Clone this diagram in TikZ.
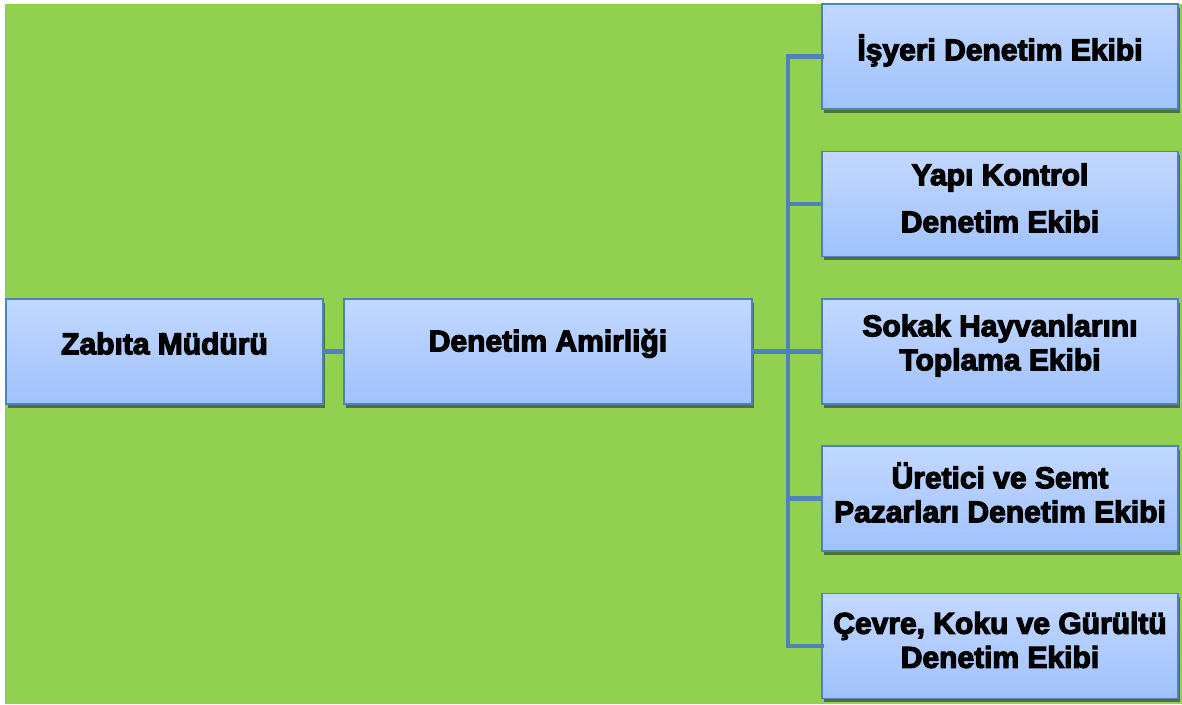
\documentclass[tikz,border=0pt]{standalone}
\usepackage{fontspec}
\setmainfont{Liberation Sans}[BoldFeatures={FakeBold=4}]
\usetikzlibrary{shadows}
\definecolor{bggreen}{HTML}{92D050}
\definecolor{linkblue}{HTML}{4F81BD}
\definecolor{boxtop}{HTML}{C2D8FF}
\definecolor{boxbot}{HTML}{A0C2FC}
\definecolor{shadowc}{HTML}{4A6634}
\tikzset{
  orgbox/.style={draw=linkblue, line width=1.5pt, top color=boxtop, bottom color=boxbot,
    minimum width=#1, minimum height=105pt, inner sep=0pt,
    drop shadow={shadow xshift=2pt, shadow yshift=-3.5pt, fill=shadowc, opacity=0.9}},
  orgtxt/.style={font=\fontsize{30pt}{34pt}\selectfont\bfseries, align=center, inner sep=0pt},
  link/.style={draw=linkblue, line width=4.8pt}
}
\begin{document}
\begin{tikzpicture}[x=1pt, y=-1pt]
\useasboundingbox (0,0) rectangle (1182,704);
\fill[bggreen] (5,4) rectangle (1182,704);
% boxes
\node[orgbox=317pt] (zm) at (164.5,351.5) {};
\node[orgbox=408pt] (da) at (548,351.5) {};
\node[orgbox=356pt] (r1) at (1000,56.5) {};
\node[orgbox=356pt] (r2) at (1000,204) {};
\node[orgbox=356pt] (r3) at (1000,351.5) {};
\node[orgbox=356pt] (r4) at (1000,498.5) {};
\node[orgbox=356pt] (r5) at (1000,646) {};
% texts
\node[orgtxt] (tzm) at ([yshift=8pt]zm.center) {Zabıta Müdürü};
\node[orgtxt] (tda) at ([yshift=8pt]da.center) {Denetim Amirliği};
\node[orgtxt] (tr1) at ([yshift=6pt]r1.center) {İşyeri Denetim Ekibi};
\node[orgtxt, font=\fontsize{30pt}{47pt}\selectfont\bfseries] (tr2) at ([yshift=6pt]r2.center) {Yapı Kontrol\\Denetim Ekibi};
\node[orgtxt] (tr3) at ([yshift=6pt]r3.center) {Sokak Hayvanlarını\\Toplama Ekibi};
\node[orgtxt] (tr4) at ([yshift=6pt]r4.center) {Üretici ve Semt\\Pazarları Denetim Ekibi};
\node[orgtxt] (tr5) at ([yshift=6pt]r5.center) {Çevre, Koku ve Gürültü\\Denetim Ekibi};
% connectors
\coordinate (bus) at (788,351.5);
\draw[link] (zm.east) -- (da.west);
\draw[link] (da.east) -- (bus);
\draw[link, line cap=rect] (r1.west) -| (788,351.5) |- (r5.west);
\draw[link] (bus |- r2.west) -- (r2.west);
\draw[link] (bus) -- (r3.west);
\draw[link] (bus |- r4.west) -- (r4.west);
\end{tikzpicture}
\end{document}
